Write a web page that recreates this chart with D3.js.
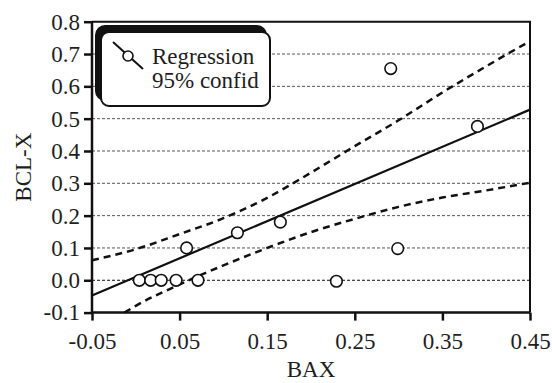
<!DOCTYPE html>
<html><head><meta charset="utf-8">
<script src="https://cdn.jsdelivr.net/npm/d3@7"></script>
<style>body{margin:0;background:#fff}svg{display:block}text{font-family:"Liberation Serif","Times New Roman",serif;fill:#1e1e1e}</style>
</head><body>
<script>
// data
const bax  = [0.004, 0.017, 0.029, 0.046, 0.071, 0.058, 0.116, 0.165, 0.229, 0.299, 0.291, 0.390];
const bclx = [0.000, 0.000, 0.000, 0.000, 0.000, 0.100, 0.147, 0.180, -0.003, 0.098, 0.655, 0.476];
const regX = [-0.05, 0.45];
const regY = [-0.047, 0.528];
const upperX = [-0.05, 0.0, 0.05, 0.1, 0.15, 0.2, 0.25, 0.3, 0.35, 0.4, 0.45];
const upperY = [0.062, 0.096, 0.143, 0.192, 0.255, 0.333, 0.415, 0.495, 0.581, 0.662, 0.740];
const lowerX = [-0.013, 0.0, 0.05, 0.1, 0.15, 0.2, 0.25, 0.3, 0.35, 0.4, 0.45];
const lowerY = [-0.100, -0.079, -0.013, 0.046, 0.100, 0.149, 0.190, 0.227, 0.256, 0.278, 0.302];
const xTicks = [-0.05, 0.05, 0.15, 0.25, 0.35, 0.45];
const xTickLabels = ["-0.05", "0.05", "0.15", "0.25", "0.35", "0.45"];
const yTicks = [-0.1, 0.0, 0.1, 0.2, 0.3, 0.4, 0.5, 0.6, 0.7, 0.8];
const yTickLabels = ["-0.1", "0.0", "0.1", "0.2", "0.3", "0.4", "0.5", "0.6", "0.7", "0.8"];
const gridVals = [0.0, 0.1, 0.2, 0.3, 0.4, 0.5, 0.6, 0.7];
const legendLabels = ["Regression", "95% confid"];

const W = 552, H = 383;
const L = 92, R = 530, T = 21.7, B = 312.6;
const FS = 23;
const svg = d3.select("body").append("svg").attr("width", W).attr("height", H);
const x = d3.scaleLinear().domain([-0.05, 0.45]).range([L, R]);
const y = d3.scaleLinear().domain([-0.1, 0.8]).range([B, T]);

// gridlines
svg.append("g").selectAll("line").data(gridVals).join("line")
  .attr("x1", L).attr("x2", R).attr("y1", d => y(d)).attr("y2", d => y(d))
  .attr("stroke", d => d === 0 ? "#111" : "#555").attr("stroke-width", 1)
  .attr("stroke-dasharray", "3,2");

// frame top/right
svg.append("path").attr("d", `M${L},${T}H${R}V${B}`).attr("fill", "none")
  .attr("stroke", "#111").attr("stroke-width", 2);

// axes
const yAxis = d3.axisLeft(y).tickValues(yTicks).tickFormat((d, i) => yTickLabels[i]).tickSize(8).tickPadding(4);
const xAxis = d3.axisBottom(x).tickValues(xTicks).tickFormat((d, i) => xTickLabels[i]).tickSize(8).tickPadding(12);
const gy = svg.append("g").attr("transform", `translate(${L},0)`).call(yAxis);
const gx = svg.append("g").attr("transform", `translate(0,${B})`).call(xAxis);
[gx, gy].forEach(g => {
  g.attr("font-family", null).attr("font-size", null);
  g.select(".domain").attr("stroke", "#111").attr("stroke-width", 2.5);
  g.selectAll(".tick line").attr("stroke", "#111").attr("stroke-width", 2.5);
  g.selectAll("text").attr("font-size", FS).attr("fill", "#1e1e1e");
});
gy.select(".domain").attr("d", `M0,${B}V${T}`);
gx.select(".domain").attr("d", `M${L},0H${R}`);

// confidence bands
const line = d3.line().x(d => x(d[0])).y(d => y(d[1])).curve(d3.curveMonotoneX);
svg.append("path").datum(d3.zip(upperX, upperY)).attr("d", line)
  .attr("fill", "none").attr("stroke", "#111").attr("stroke-width", 2.5).attr("stroke-dasharray", "7,5");
svg.append("path").datum(d3.zip(lowerX, lowerY)).attr("d", line)
  .attr("fill", "none").attr("stroke", "#111").attr("stroke-width", 2.5).attr("stroke-dasharray", "7,5");
// regression
svg.append("path").datum(d3.zip(regX, regY)).attr("d", d3.line().x(d => x(d[0])).y(d => y(d[1])))
  .attr("fill", "none").attr("stroke", "#111").attr("stroke-width", 2.2);

// points
svg.append("g").selectAll("circle").data(d3.zip(bax, bclx)).join("circle")
  .attr("cx", d => x(d[0])).attr("cy", d => y(d[1])).attr("r", 5.8)
  .attr("fill", "#fff").attr("stroke", "#111").attr("stroke-width", 1.6);

// legend
const lg = svg.append("g");
lg.append("rect").attr("x", 95).attr("y", 25).attr("width", 172).attr("height", 76).attr("rx", 10)
  .attr("fill", "#111");
lg.append("rect").attr("x", 101).attr("y", 32).attr("width", 169).attr("height", 74).attr("rx", 8)
  .attr("fill", "#fff").attr("stroke", "#111").attr("stroke-width", 2);
lg.append("line").attr("x1", 113).attr("y1", 42).attr("x2", 143).attr("y2", 69)
  .attr("stroke", "#111").attr("stroke-width", 2);
lg.append("circle").attr("cx", 128).attr("cy", 56).attr("r", 5)
  .attr("fill", "#fff").attr("stroke", "#111").attr("stroke-width", 1.6);
lg.selectAll("text").data(legendLabels).join("text")
  .attr("x", 152).attr("y", (d, i) => 63.5 + i * 24.5).attr("font-size", FS).text(d => d);

// axis titles
svg.append("text").attr("x", (L + R) / 2).attr("y", 377).attr("text-anchor", "middle")
  .attr("font-size", FS).text("BAX");
svg.append("text").attr("transform", `translate(31,${(T + B) / 2}) rotate(-90)`)
  .attr("text-anchor", "middle").attr("font-size", FS).text("BCL-X");
</script>
</body></html>
